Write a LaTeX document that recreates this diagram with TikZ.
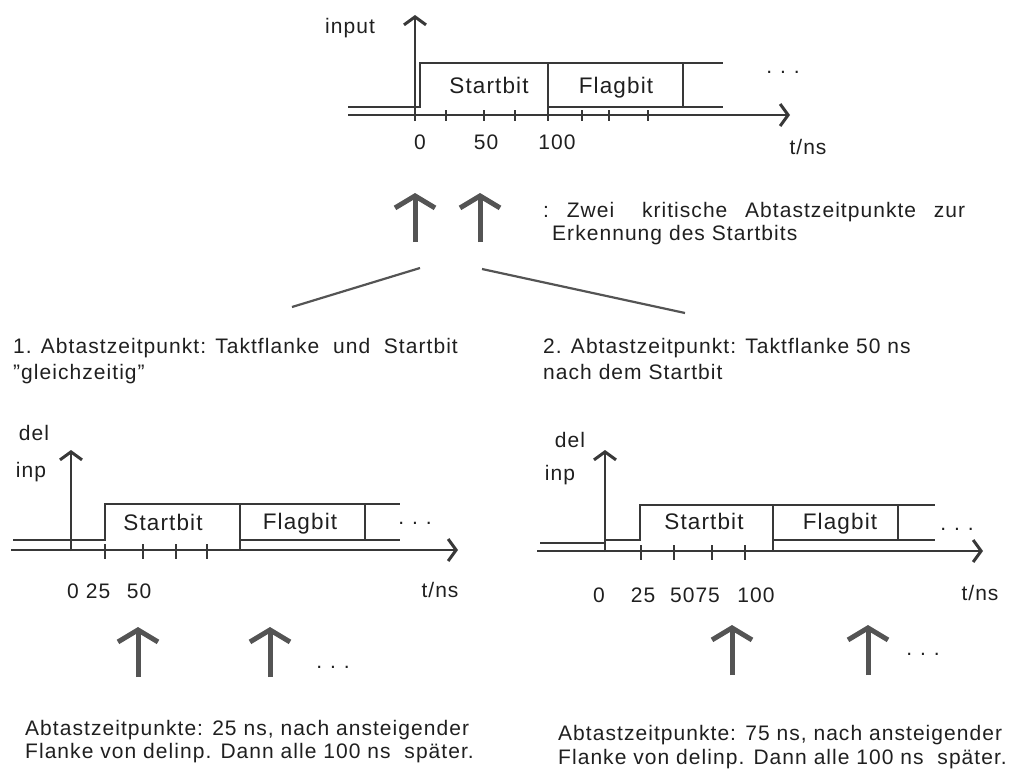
\documentclass[tikz,border=0pt]{standalone}
\usepackage{fontspec}
\setmainfont{Liberation Sans}[LetterSpace=5]
\usetikzlibrary{arrows.meta}

\definecolor{ink}{gray}{0.12}
\definecolor{wave}{gray}{0.22}
\definecolor{marker}{gray}{0.33}

\newcommand{\dotrow}{.\hspace{8pt}.\hspace{8pt}.}

\begin{document}
\begin{tikzpicture}[x=1pt,y=-1pt]
  \tikzstyle{txt}=[inner sep=0pt,anchor=base west,text=ink,font=\fontsize{21}{25}\selectfont]
  \tikzstyle{lbl}=[inner sep=0pt,anchor=base,text=ink,font=\fontsize{21}{25}\selectfont]
  \tikzstyle{bitname}=[lbl,font=\fontsize{22.5}{27}\selectfont]
  \tikzstyle{sig}=[line width=2pt,draw=wave]
  \tikzstyle{taxis}=[line width=2.4pt,draw=wave,-{Straight Barb[length=8pt,width=22pt,line width=3pt]}]
  \tikzstyle{tickmark}=[line width=2pt,draw=wave]
  \tikzstyle{samplearr}=[line width=5pt,draw=marker,-{Straight Barb[length=12pt,width=40pt]}]
  \tikzstyle{lead}=[line width=2.2pt,draw=marker]

  \useasboundingbox (0,0) rectangle (1017,776);

  % input signal
  \node[lbl] (input) at (350,34) {input};
  \draw[sig] (348,107) -- (420,107) -- (420,63) -- (723,63);
  \draw[sig] (548,63) -- (548,113);
  \draw[sig] (548,107) -- (723,107);
  \draw[sig] (683,63) -- (683,107);
  \draw[taxis] (348,115) -- (790,115);
  \draw[taxis] (415,121) -- (415,15);
  \foreach \x in {415,446,484,515,548,582,609,648}
    \draw[tickmark] (\x,110) -- (\x,121);
  \node[bitname] (sb0) at (489,93) {Startbit};
  \node[bitname] (fb0) at (616,93) {Flagbit};
  \node[lbl] (dots0) at (783,74) {\dotrow};
  \node[lbl] (n0) at (420,149) {0};
  \node[lbl] (n50) at (486,149) {50};
  \node[lbl] (n100) at (557,149) {100};
  \node[lbl] (tns0) at (808,154) {t/ns};

  % the two critical sampling instants
  \draw[samplearr] (415,242) -- (415,193);
  \draw[samplearr] (480,242) -- (480,193);
  \node[txt] (crit1) at (543,217) {\makebox[422pt][s]{:~Zwei\hspace{10pt} kritische Abtastzeitpunkte zur}};
  \node[txt] (crit2) at (552,240) {Erkennung des Startbits};
  \coordinate (pairL) at (420,268);
  \coordinate (pairR) at (482,269);
  \coordinate (endL) at (292,307);
  \coordinate (endR) at (685,313);
  \draw[lead] (pairL) -- (endL);
  \draw[lead] (pairR) -- (endR);

  \node[txt] (case1a) at (13,353) {1. Abtastzeitpunkt: Taktflanke~ und~ Startbit};
  \node[txt] (case1b) at (13,379) {"gleichzeitig"};
  \node[txt] (case2a) at (543,353) {2. Abtastzeitpunkt: Taktflanke 50 ns};
  \node[txt] (case2b) at (543,379) {nach dem Startbit};

  % delayed input, case 1
  \node[lbl] (dela) at (34,440) {del};
  \node[lbl] (inpa) at (31,477) {inp};
  \draw[sig] (13,540) -- (105,540) -- (105,504) -- (400,504);
  \draw[sig] (240,504) -- (240,550);
  \draw[sig] (240,540) -- (400,540);
  \draw[sig] (365,504) -- (365,540);
  \draw[taxis] (11,550) -- (458,550);
  \draw[taxis] (71,551) -- (71,450);
  \foreach \x in {105,143,176,207}
    \draw[tickmark] (\x,544) -- (\x,559);
  \node[bitname] (sba) at (163,530) {Startbit};
  \node[bitname] (fba) at (300,529) {Flagbit};
  \node[lbl] (dotsa) at (415,524) {\dotrow};
  \node[lbl] (a0) at (73,598) {0};
  \node[lbl] (a25) at (98,598) {25};
  \node[lbl] (a50) at (139,598) {50};
  \node[lbl] (tnsa) at (440,597) {t/ns};
  \draw[samplearr] (138,677) -- (138,627);
  \draw[samplearr] (270,677) -- (270,627);
  \node[lbl] (moreA) at (333,668) {\dotrow};
  \node[txt] (resa1) at (25,735) {Abtastzeitpunkte: 25 ns, nach ansteigender};
  \node[txt] (resa2) at (25,758) {Flanke von delinp. Dann alle 100 ns~ später.};

  % delayed input, case 2
  \node[lbl] (delb) at (570,447) {del};
  \node[lbl] (inpb) at (560,480) {inp};
  \draw[sig] (540,543) -- (605,543) -- (605,540) -- (640,540) -- (640,505) -- (935,505);
  \draw[sig] (773,505) -- (773,550);
  \draw[sig] (773,540) -- (935,540);
  \draw[sig] (898,505) -- (898,540);
  \draw[taxis] (537,551) -- (983,551);
  \draw[taxis] (605,552) -- (605,450);
  \foreach \x in {641,674,712,745}
    \draw[tickmark] (\x,545) -- (\x,560);
  \node[bitname] (sbb) at (704,529) {Startbit};
  \node[bitname] (fbb) at (840,529) {Flagbit};
  \node[lbl] (dotsb) at (957,530) {\dotrow};
  \node[lbl] (b0) at (599,602) {0};
  \node[lbl] (b25) at (643,602) {25};
  \node[lbl] (b5075) at (695,602) {5075};
  \node[lbl] (b100) at (756,602) {100};
  \node[lbl] (tnsb) at (980,600) {t/ns};
  \draw[samplearr] (732,675) -- (732,625);
  \draw[samplearr] (868,675) -- (868,625);
  \node[lbl] (moreB) at (923,655) {\dotrow};
  \node[txt] (resb1) at (558,740) {Abtastzeitpunkte: 75 ns, nach ansteigender};
  \node[txt] (resb2) at (558,764) {Flanke von delinp. Dann alle 100 ns~ später.};
\end{tikzpicture}
\end{document}
